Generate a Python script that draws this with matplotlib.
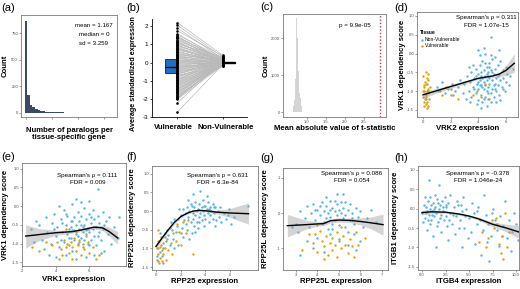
import matplotlib
matplotlib.use("Agg")
import matplotlib.pyplot as plt
import matplotlib.transforms as mtransforms
import numpy as np

plt.rcParams['font.family'] = ['Liberation Sans', 'DejaVu Sans']
plt.rcParams['axes.unicode_minus'] = False

BLUE = '#56B4E9'
ORANGE = '#E69F00'

# ---------------- data ----------------
# (a) histogram: number of paralogs per tissue-specific gene
a_bins = list(range(0, 33))
a_counts = [860, 170, 75, 53, 35, 25, 18, 14, 10, 8, 6, 5, 4, 3, 3, 2, 2, 2, 1, 1, 1, 1, 0, 1, 1, 0, 1, 0, 1, 0, 1, 0, 1]
a_stats = ["mean = 1.167", "median = 0", "sd = 3.259"]

# (b) paired average standardized expression
b_vul = [2.2, 2.05, 1.9, 1.75, 1.6, 1.52, 1.45, 1.4, 1.33, 1.27, 1.2, 1.15, 1.08, 1.02, 0.97, 0.9,
         0.85, 0.8, 0.74, 0.68, 0.62, 0.57, 0.51, 0.46, 0.4, 0.35, 0.3, 0.25, 0.2, 0.15, 0.1, 0.05,
         0.0, -0.05, -0.1, -0.15, -0.2, -0.25, -0.3, -0.35, -0.4, -0.45, -0.5, -0.55, -0.6, -0.65,
         -0.7, -0.75, -0.8, -0.86, -0.92, -0.97, -1.03, -1.08, -1.14, -1.2, -1.25, -1.3, -1.36,
         -1.42, -1.48, -1.53, -1.59, -1.65, -1.7, -1.76, -1.82, -1.88, -1.93, -1.98, -2.02, -2.22, -2.72,
         1.37, 1.12, 0.94, 0.77, 0.6, 0.43, 0.28, 0.12, -0.02, -0.17, -0.32, -0.47, -0.62, -0.77,
         -0.95, -1.11, -1.28, -1.45, -1.62, -1.79, -1.96]
b_non = [0.4, 0.3, 0.2, 0.35, 0.1, 0.25, 0.05, 0.15, 0.0, 0.1, 0.2, -0.05, 0.05, 0.3, 0.0, 0.12,
         -0.1, 0.08, 0.02, 0.18, -0.03, 0.06, 0.0, 0.1, -0.08, 0.04, 0.15, -0.02, 0.07, 0.0, -0.12,
         0.03, 0.1, -0.05, 0.0, 0.05, -0.15, 0.02, 0.08, -0.04, 0.0, 0.12, -0.1, 0.04, -0.02, 0.06,
         -0.18, 0.0, 0.1, -0.06, 0.03, -0.12, 0.0, 0.05, -0.08, 0.02, -0.15, 0.07, -0.03, 0.0,
         -0.1, 0.04, -0.2, 0.01, -0.05, 0.08, -0.12, 0.0, -0.07, 0.03, -0.15, 0.1, -0.1,
         0.22, 0.08, 0.14, -0.02, 0.05, 0.11, -0.06, 0.03, 0.0, -0.09, 0.06, -0.04, 0.02, -0.11,
         0.09, -0.07, 0.01, -0.13, 0.04, -0.16, 0.0]
b_box_vul = dict(q1=-0.57, med=-0.22, q3=0.18)
b_box_non = dict(q1=-0.02, med=0.0, q3=0.02)
b_groups = ["Vulnerable", "Non-Vulnerable"]

# (c) permutation histogram
c_centers = [0.63, 0.65, 0.67, 0.69, 0.71, 0.73, 0.75, 0.77, 0.79, 0.81, 0.83, 0.85, 0.87]
c_counts = [40, 150, 320, 900, 1900, 2550, 2000, 1100, 600, 520, 380, 150, 50]
c_observed = 2.92
c_p = "p = 9.9e-05"

# (d) VRK2 expression vs VRK1 dependency
d_blue = [(3.0,-0.8),(3.2,-0.6),(3.3,-1.0),(3.4,-0.75),(3.5,-0.5),(3.5,-1.15),(3.6,-0.9),(3.7,-0.65),
          (3.8,-0.4),(3.8,-1.05),(3.9,-0.8),(4.0,-0.55),(4.0,-1.25),(4.0,-0.95),(4.1,-0.7),(4.1,-0.3),
          (4.2,-1.1),(4.2,-0.85),(4.2,-0.5),(4.3,-0.65),(4.3,-1.3),(4.3,-0.2),(4.4,-0.95),(4.4,-0.75),
          (4.4,-0.45),(4.5,-1.15),(4.5,-0.6),(4.5,-0.85),(4.6,-0.35),(4.6,-1.0),(4.6,-0.7),(4.7,-0.5),
          (4.7,-1.2),(4.7,-0.9),(4.8,-0.25),(4.8,-0.65),(4.8,-0.8),(4.9,-1.05),(4.9,-0.45),(5.0,-0.7),
          (5.0,-0.95),(5.0,-0.15),(5.1,-0.55),(5.1,-1.15),(5.2,-0.8),(5.2,-0.4),(5.3,-0.65),(5.3,-1.0),
          (5.4,-0.3),(5.4,-0.85),(5.5,-0.55),(5.5,-1.1),(5.6,-0.7),(5.6,-0.2),(5.7,-0.9),(5.8,-0.45),
          (5.8,-0.65),(5.9,-1.0),(6.0,-0.35),(6.0,-0.75),(6.1,-0.55),(6.3,-0.6),(6.5,-0.4),(3.1,-1.2),
          (3.6,-0.3),(3.9,-1.35),(4.1,-0.05),(4.5,0.0),(4.9,-0.05),(5.2,-0.1),(4.4,0.15),(4.9,0.45),
          (5.5,0.1),(4.0,0.1),(3.3,-0.35),(2.9,-1.05),(2.7,-0.7),(2.5,-0.9),(2.3,-1.0),(2.1,-0.8),
          (2.0,-1.1),(1.8,-0.95),(1.6,-1.05),(1.4,-0.75),(1.2,-1.0),(1.0,-0.9),(0.3,-0.8),(0.4,-1.0),
          (0.2,-1.2),(4.6,-1.4),(5.3,-1.3),(4.2,-1.45),(5.0,-0.5),(4.7,-0.6),(4.3,-0.9),(4.0,-0.75),
          (3.7,-0.95),(5.8,-0.95),(6.2,-0.85),(3.4,-1.3),(5.6,-1.25),(4.9,-1.3),(4.5,-0.25),(4.2,-0.6),
          (3.8,-0.6),(5.1,-0.85),(4.7,-1.05),(4.4,-1.2),(4.6,-0.55),(5.4,-0.6),(5.2,-0.95),(4.1,-0.85),
          (4.8,-0.35)]
d_orange = [(0.0,-0.6),(0.05,-0.9),(0.1,-1.0),(0.15,-1.2),(0.2,-1.1),(0.25,-0.8),(0.3,-1.3),(0.35,-0.95),
            (0.4,-1.05),(0.1,-1.4),(0.3,-1.45),(0.2,-0.5),(0.4,-0.7),(0.0,-1.15),(0.45,-1.2),(0.15,-0.75),
            (0.3,-1.0),(0.05,-1.3),(0.35,-0.55),(0.25,-1.15),(0.5,-0.9),(0.1,-0.85),(0.2,-1.35),(0.4,-1.4),
            (0.0,-1.0),(0.3,-0.65),(1.1,-1.0),(1.4,-1.1),(1.7,-0.9),(2.2,-1.1),(2.5,-1.2),(3.6,-1.1),
            (4.2,-1.15),(4.8,-1.2),(3.9,-1.0),(4.5,-0.8),(2.0,-0.95)]
d_fit_x = [0, 1, 2, 3, 4, 5, 5.5, 6, 6.6]
d_fit_y = [-1.1, -0.99, -0.88, -0.77, -0.66, -0.6, -0.55, -0.45, -0.26]
d_fit_lo = [-1.2, -1.05, -0.93, -0.81, -0.69, -0.64, -0.62, -0.58, -0.5]
d_fit_hi = [-1.0, -0.93, -0.83, -0.73, -0.63, -0.56, -0.49, -0.33, 0.0]
d_text = ["Spearman's \u03c1 = 0.311", "FDR = 1.07e-15"]

# (e) VRK1 expression vs VRK1 dependency
e_blue = [(3.0,-0.5),(3.2,-0.9),(3.4,-0.3),(3.5,-0.7),(3.7,-1.0),(3.8,-0.45),(3.9,-0.2),(4.0,-0.8),
          (4.1,-0.55),(4.2,-1.1),(4.3,-0.35),(4.4,-0.7),(4.5,-0.1),(4.5,-0.95),(4.6,-0.5),(4.7,-0.75),
          (4.7,-0.25),(4.8,-1.05),(4.8,-0.6),(4.9,-0.4),(4.9,-0.85),(5.0,0.05),(5.0,-0.65),(5.0,-1.2),
          (5.1,-0.3),(5.1,-0.9),(5.2,-0.5),(5.2,-0.75),(5.3,-0.15),(5.3,-1.0),(5.4,-0.6),(5.4,-0.4),
          (5.5,-0.85),(5.5,0.1),(5.5,-0.25),(5.6,-0.7),(5.6,-1.1),(5.7,-0.5),(5.7,-0.05),(5.8,-0.8),
          (5.8,-0.35),(5.9,-0.6),(5.9,-1.0),(6.0,-0.2),(6.0,-0.7),(6.0,0.15),(6.1,-0.45),(6.1,-0.9),
          (6.2,-0.6),(6.2,-0.1),(6.3,-0.8),(6.3,-0.35),(6.4,-1.05),(6.4,-0.55),(6.5,0.45),(6.5,-0.25),
          (6.6,-0.7),(6.6,-0.45),(6.7,-0.9),(6.8,-0.15),(6.8,-0.6),(6.9,-1.2),(7.0,-0.4),(7.1,-0.75),
          (7.2,-0.3),(7.3,-1.0),(7.5,-0.55),(7.7,-0.85),(7.8,-0.3),(3.3,-1.15),(3.6,-1.3),(4.0,-1.35),
          (4.6,-1.3),(5.2,-1.4),(5.8,-1.35),(6.3,-1.3),(6.7,-1.25),(2.5,-0.6),(2.7,-0.95),(2.8,-0.4),
          (4.4,-0.45),(4.9,-0.55),(5.3,-0.8),(5.6,-0.55),(5.1,-0.65),(5.4,-0.95),(5.8,-0.65),(6.1,-0.3),
          (4.6,-0.2),(5.0,-0.4),(5.7,-0.9),(4.3,-0.9),(6.5,-0.8),(3.9,-0.6),(4.2,0.0),(5.2,0.2),
          (6.0,-1.05),(4.8,-0.85),(5.5,-0.5),(6.9,-0.5)]
e_orange = [(2.6,-1.1),(3.0,-1.2),(3.4,-0.95),(3.8,-1.05),(4.1,-0.95),(4.3,-1.15),(4.4,-1.3),(4.5,-0.9),
            (4.6,-1.1),(4.7,-1.0),(4.8,-1.25),(4.9,-0.95),(5.0,-1.1),(5.0,-1.4),(5.1,-0.85),(5.2,-1.2),
            (5.3,-1.05),(5.4,-0.9),(5.5,-1.3),(5.6,-1.0),(5.7,-1.15),(5.9,-0.95),(6.0,-1.25),(6.2,-1.1),
            (6.4,-1.4),(4.6,-0.6),(5.2,-0.7),(4.2,-1.4),(5.8,-0.75),(6.6,-1.3)]
e_fit_x = [2.2, 3.0, 4.0, 5.0, 5.6, 6.3, 6.8, 7.2, 7.7]
e_fit_y = [-0.8, -0.76, -0.71, -0.68, -0.63, -0.56, -0.58, -0.68, -0.85]
e_fit_lo = [-1.12, -0.92, -0.78, -0.72, -0.68, -0.61, -0.65, -0.8, -1.02]
e_fit_hi = [-0.5, -0.6, -0.64, -0.64, -0.58, -0.51, -0.51, -0.56, -0.68]
e_text = ["Spearman's \u03c1 = 0.111", "FDR = 0.009"]

# (f) RPP25 expression vs RPP25L dependency
f_blue = [(2.0,-0.1),(2.2,0.05),(2.3,-0.25),(2.4,-0.05),(2.5,0.1),(2.6,-0.15),(2.7,0.0),(2.8,-0.3),
          (2.9,0.15),(3.0,-0.05),(3.0,-0.2),(3.1,0.1),(3.2,-0.1),(3.2,0.25),(3.3,0.0),(3.3,-0.3),
          (3.4,0.05),(3.5,-0.15),(3.5,0.2),(3.6,-0.05),(3.7,0.1),(3.7,-0.25),(3.8,0.0),(3.8,0.3),
          (3.9,-0.1),(4.0,0.15),(4.0,-0.2),(4.1,0.05),(4.2,-0.05),(4.2,0.25),(4.3,-0.3),(4.4,0.1),
          (4.4,-0.1),(4.5,0.0),(4.6,-0.2),(4.6,0.2),(4.7,-0.05),(4.8,0.1),(4.9,-0.25),(5.0,0.0),
          (5.1,-0.15),(5.2,0.1),(5.3,-0.3),(5.5,-0.05),(5.7,-0.2),(5.9,0.05),(6.1,-0.35),(3.0,0.45),
          (3.6,0.55),(4.1,0.4),(2.6,0.3),(1.8,-0.2),(1.9,0.05),(1.7,-0.4),(1.5,-0.2),(1.6,-0.55),
          (1.3,-0.5),(1.2,-0.3),(1.4,-0.75),(1.0,-0.65),(1.1,-0.9),(0.8,-0.8),(0.9,-0.5),(0.6,-1.0),
          (0.7,-0.7),(0.5,-1.2),(0.4,-0.9),(0.3,-1.1),(0.2,-1.35),(0.35,-0.6),(0.15,-1.0),(0.1,-1.2),
          (2.1,-0.45),(2.5,-0.5),(2.9,-0.6),(3.4,-0.45),(2.2,-0.7),(1.5,-1.0),(7.5,0.15),(5.8,-0.1),
          (6.3,-0.15),(4.8,-0.4),(3.9,-0.4),(2.4,-0.35),(3.1,-0.4),(2.8,0.2),(3.5,-0.3),(4.3,0.05),
          (3.9,0.15),(4.7,0.1),(3.2,-0.55),(2.0,-0.6),(2.7,-0.75),(0.6,-1.4),(1.8,-0.9)]
f_orange = [(0.05,-1.0),(0.1,-1.3),(0.15,-0.8),(0.2,-1.15),(0.25,-1.4),(0.3,-0.95),(0.35,-1.25),(0.4,-0.7),
            (0.45,-1.05),(0.5,-1.35),(0.55,-0.85),(0.6,-1.15),(0.7,-0.6),(0.75,-1.0),(0.8,-1.3),(0.9,-0.75),
            (1.0,-1.05),(1.1,-0.45),(1.2,-0.85),(1.3,-1.15),(1.4,-0.6),(1.6,-0.8),(1.7,-0.35),(1.9,-0.55),
            (2.0,-0.9),(2.2,-0.3),(2.4,-0.6),(2.6,-0.25),(3.0,-1.15),(0.2,-0.5)]
f_fit_x = [0, 0.5, 1, 1.5, 2, 2.5, 3, 3.5, 4, 5, 6, 7.5]
f_fit_y = [-0.95, -0.72, -0.5, -0.3, -0.15, -0.06, 0.0, 0.02, 0.01, -0.03, -0.05, -0.07]
f_fit_lo = [-1.03, -0.77, -0.54, -0.34, -0.18, -0.09, -0.03, -0.01, -0.02, -0.08, -0.17, -0.35]
f_fit_hi = [-0.87, -0.67, -0.46, -0.26, -0.12, -0.03, 0.03, 0.05, 0.04, 0.02, 0.07, 0.22]
f_text = ["Spearman's \u03c1 = 0.631", "FDR = 6.3e-84"]

# (g) RPP25L expression vs RPP25L dependency
g_blue = [(3.0,-0.3),(3.2,0.05),(3.4,-0.15),(3.5,0.2),(3.6,-0.4),(3.7,0.0),(3.8,0.25),(3.9,-0.2),
          (4.0,0.1),(4.1,-0.05),(4.2,0.3),(4.2,-0.3),(4.3,0.05),(4.4,-0.15),(4.4,0.2),(4.5,-0.45),
          (4.5,0.0),(4.6,0.35),(4.6,-0.1),(4.7,0.15),(4.7,-0.3),(4.8,0.05),(4.8,-0.2),(4.9,0.25),
          (4.9,-0.05),(5.0,0.1),(5.0,-0.35),(5.1,0.0),(5.1,0.3),(5.2,-0.15),(5.2,0.15),(5.3,-0.05),
          (5.3,-0.4),(5.4,0.1),(5.5,-0.2),(5.5,0.25),(5.6,0.0),(5.7,-0.3),(5.8,0.15),(5.9,-0.1),
          (6.0,0.05),(6.1,-0.4),(6.3,-0.15),(6.5,0.1),(6.7,-0.25),(4.9,0.55),(5.2,0.55),(4.4,0.45),
          (3.5,-0.8),(3.8,-1.0),(4.0,-0.7),(4.3,-1.1),(4.6,-0.6),(5.0,-0.75),(5.4,-0.9),(5.7,-0.6),
          (6.0,-0.8),(3.2,-1.2),(3.1,-0.55),(5.8,-1.05),(2.8,-0.4),(4.1,0.2),(4.6,0.1),(5.3,0.3),
          (4.3,-0.25),(4.8,0.35),(5.6,-0.15),(3.9,0.1),(5.4,-0.55),(4.7,-0.45)]
g_orange = [(3.3,-1.05),(3.6,-0.6),(3.8,-0.85),(4.0,-1.1),(4.1,-0.5),(4.2,-0.8),(4.3,-0.95),(4.4,-0.65),
            (4.5,-1.2),(4.6,-0.85),(4.7,-0.7),(4.7,-1.05),(4.8,-0.9),(4.9,-0.55),(4.9,-1.25),(5.0,-0.8),
            (5.1,-1.0),(5.2,-0.65),(5.3,-0.9),(5.4,-1.15),(5.5,-0.75),(5.6,-0.95),(5.8,-0.55),(5.9,-0.9),
            (6.2,-0.7),(4.3,-1.3),(4.0,-0.35),(5.1,-0.4),(3.9,-0.6),(5.7,-1.25)]
g_fit_x = [2.6, 3.5, 4.0, 4.3, 4.6, 5.0, 5.5, 6.0, 6.5, 7.05]
g_fit_y = [-0.36, -0.33, -0.31, -0.3, -0.22, -0.2, -0.21, -0.24, -0.28, -0.33]
g_fit_lo = [-0.68, -0.45, -0.37, -0.36, -0.28, -0.26, -0.27, -0.34, -0.45, -0.63]
g_fit_hi = [-0.04, -0.21, -0.25, -0.24, -0.16, -0.14, -0.15, -0.14, -0.11, -0.03]
g_text = ["Spearman's \u03c1 = 0.086", "FDR = 0.054"]

# (h) ITGB4 expression vs ITGB1 dependency
h_blue = [(0.0,-0.1),(0.2,0.1),(0.3,-0.25),(0.4,0.05),(0.5,-0.05),(0.6,0.2),(0.7,-0.15),(0.8,0.0),
          (0.9,0.3),(1.0,-0.3),(1.0,0.1),(1.1,-0.05),(1.2,0.15),(1.3,-0.2),(1.4,0.05),(1.5,-0.1),
          (1.6,0.25),(1.7,-0.35),(1.8,0.0),(1.9,0.1),(2.0,-0.15),(2.1,0.2),(2.2,-0.05),(2.3,-0.3),
          (2.5,0.05),(2.6,-0.2),(2.8,0.15),(3.0,-0.1),(3.2,-0.4),(3.4,0.05),(3.6,-0.2),(3.8,0.1),
          (4.0,-0.3),(4.2,-0.05),(4.5,-0.5),(4.7,0.0),(5.0,-0.25),(5.2,-0.6),(5.5,-0.1),(5.8,-0.4),
          (6.0,0.05),(6.2,-0.3),(6.5,-0.55),(6.8,-0.15),(7.0,-0.4),(7.3,-0.7),(7.6,0.0),(7.8,-0.3),
          (8.0,-0.55),(8.3,-0.2),(8.6,-0.45),(9.0,-0.75),(9.3,-0.3),(9.6,-0.6),(10.0,-0.4),(10.2,-0.8),
          (0.7,0.75),(1.8,0.6),(3.0,0.35),(4.4,0.3),(6.6,0.35),(8.8,0.2),(0.5,-0.55),(1.2,-0.7),
          (2.0,-0.6),(2.8,-0.8),(3.5,-0.65),(4.3,-1.0),(6.3,-1.2),(7.1,-1.35),(5.6,-0.9),(8.2,-0.95),
          (9.5,-1.1),(1.5,-1.0),(0.3,0.3),(1.4,0.35),(2.4,0.3),(0.9,-0.4),(1.6,-0.45),(2.7,-0.45),
          (3.9,-0.5),(5.3,0.15),(7.4,-0.1),(9.8,-0.1),(4.9,-0.75),(6.9,-0.85),(8.5,-0.7),(0.1,-0.35),
          (1.1,-0.15),(2.2,0.05),(3.3,-0.15),(4.6,-0.2),(5.9,-0.05),(3.7,0.2),(0.4,-0.1),(1.3,0.0),
          (1.9,-0.25),(2.6,0.1),(0.6,-0.3),(1.7,0.15),(2.9,-0.3),(4.1,0.1)]
h_orange = [(6.4,-0.6),(6.8,-1.0),(7.0,-0.75),(7.4,-0.3),(7.7,-0.5),(8.0,-0.4),(8.2,-0.9),(8.4,-1.15),
            (8.6,-1.3),(8.8,-0.1),(9.0,-1.0),(9.3,-0.6),(7.9,-0.25),(8.5,-0.7),(6.1,-0.85)]
h_fit_x = [0, 1, 2.5, 4, 5, 6, 7.5, 9, 10.3]
h_fit_y = [-0.1, -0.08, -0.09, -0.14, -0.19, -0.26, -0.4, -0.5, -0.6]
h_fit_lo = [-0.16, -0.12, -0.12, -0.17, -0.22, -0.3, -0.46, -0.6, -0.76]
h_fit_hi = [-0.04, -0.04, -0.06, -0.11, -0.16, -0.22, -0.34, -0.4, -0.44]
h_text = ["Spearman's \u03c1 = -0.378", "FDR = 1.046e-24"]

# ---------------- layout helpers ----------------
W, H = 520, 289
fig = plt.figure(figsize=(W / 100, H / 100), dpi=100)


def add_ax(l, t, r, b):
    return fig.add_axes([l / W, 1 - b / H, (r - l) / W, (b - t) / H])


TICK_C = '#4d4d4d'
LAB = dict(fontsize=5.6, fontweight='bold', color='black')


def style_box(ax):
    for s in ax.spines.values():
        s.set_color('#7a7a7a')
        s.set_linewidth(0.6)
    ax.tick_params(length=1.3, width=0.4, color='#555555', labelsize=3.0,
                   labelcolor=TICK_C, pad=0.8)


def set_labels(ax, xl, yl, xy, yx):
    ax.set_xlabel(xl, va='center', **LAB)
    ax.xaxis.set_label_coords(0.5, xy)
    ax.set_ylabel(yl, va='center', **LAB)
    ax.yaxis.set_label_coords(yx, 0.5)


def panel_label(x, y, s):
    fig.text(x / W, 1 - y / H, s, fontsize=8, ha='left', va='center')


def scatter_panel(ax, blue, orange, fx, fy, flo, fhi, texts, tx, ty1, ty2):
    bx, by = zip(*blue)
    ox, oy = zip(*orange)
    ax.scatter(bx, by, s=3.0, c=BLUE, linewidths=0, label='Non-Vulnerable', zorder=2)
    ax.scatter(ox, oy, s=3.0, c=ORANGE, linewidths=0, label='Vulnerable', zorder=3)
    ax.fill_between(fx, flo, fhi, color='#a0a0a0', alpha=0.45, linewidth=0, zorder=4)
    ax.plot(fx, fy, color='black', lw=1.0, zorder=5)
    ax.text(tx, ty1, texts[0], transform=ax.transAxes, ha='center', va='center', fontsize=4.5)
    ax.text(tx, ty2, texts[1], transform=ax.transAxes, ha='center', va='center', fontsize=4.5)
    style_box(ax)


# ---------------- (a) ----------------
ax = add_ax(21, 15, 117, 117)
ax.bar(a_bins, a_counts, width=1.0, color='#3d4b60', linewidth=0)
ax.set_xlim(-1.9, 35)
ax.set_ylim(-40, 920)
ax.set_xticks([0, 10, 20, 30])
ax.set_xticklabels([])
ax.set_yticks([0, 250, 500, 750])
style_box(ax)
for i, s in enumerate(a_stats):
    ax.text(0.76, 0.9 - i * 0.088, s, transform=ax.transAxes, ha='center', va='center', fontsize=4.4)
set_labels(ax, "Number of paralogs per\ntissue-specific gene", "Count", -0.17, -0.17)
ax.xaxis.label.set_linespacing(1.05)
panel_label(1, 8, "(a)")

# ---------------- (b) ----------------
ax = add_ax(152, 19, 247, 117)
for v, n in zip(b_vul, b_non):
    ax.plot([1, 2], [v, n], color='#bababa', lw=0.5, zorder=1)
ax.scatter([1] * len(b_vul), b_vul, s=3.5, c='black', linewidths=0, zorder=3)
ax.scatter([2] * len(b_non), b_non, s=3.5, c='black', linewidths=0, zorder=3)
stats_v = [dict(med=b_box_vul['med'], q1=b_box_vul['q1'], q3=b_box_vul['q3'],
                whislo=b_box_vul['q1'], whishi=b_box_vul['q3'], fliers=[])]
stats_n = [dict(med=b_box_non['med'], q1=b_box_non['q1'], q3=b_box_non['q3'],
                whislo=b_box_non['q1'], whishi=b_box_non['q3'], fliers=[])]
ax.bxp(stats_v, positions=[0.865], widths=[0.27], patch_artist=True, showcaps=False,
       boxprops=dict(facecolor='#1f6fc4', edgecolor='black', linewidth=0.5),
       medianprops=dict(color='black', linewidth=0.9), whiskerprops=dict(linewidth=0), manage_ticks=False)
ax.bxp(stats_n, positions=[2.135], widths=[0.27], patch_artist=True, showcaps=False,
       boxprops=dict(facecolor='#1f6fc4', edgecolor='black', linewidth=1.0),
       medianprops=dict(color='black', linewidth=1.2), whiskerprops=dict(linewidth=0), manage_ticks=False)
ax.set_xlim(0.44, 2.53)
ax.set_ylim(-3, 2.4)
ax.set_xticks([1, 2])
ax.set_xticklabels(["", ""])
blend = mtransforms.blended_transform_factory(ax.transData, ax.transAxes)
ax.text(0.92, -0.11, b_groups[0], transform=blend, ha='center', va='center',
        fontsize=5.5, fontweight='bold')
ax.text(2.07, -0.11, b_groups[1], transform=blend, ha='center', va='center',
        fontsize=5.5, fontweight='bold')
ax.set_yticks([-3, -2, -1, 0, 1, 2])
ax.spines['top'].set_visible(False)
ax.spines['right'].set_visible(False)
for s in ('left', 'bottom'):
    ax.spines[s].set_linewidth(0.6)
ax.tick_params(axis='y', length=1.5, width=0.5, labelsize=4.5, pad=1.2)
ax.tick_params(axis='x', length=1.5, width=0.5, pad=3.5)
ax.set_ylabel("Average standardized expression", va='center', fontsize=5.2,
              fontweight='bold', color='black')
ax.yaxis.set_label_coords(-0.19, 0.44)
panel_label(126, 8, "(b)")

# ---------------- (c) ----------------
ax = add_ax(283, 14, 386, 117)
ax.bar(c_centers, c_counts, width=0.02, color='#d4d4d4', linewidth=0)
ax.axvline(c_observed, color='#b83a4b', lw=1.0, linestyle=(0, (1, 1.4)))
ax.set_xlim(0.37, 3.08)
ax.set_ylim(-135, 2650)
ax.set_xticks([1.0, 1.5, 2.0, 2.5])
ax.set_xticklabels(["1.0", "1.5", "2.0", "2.5"])
ax.set_yticks([0, 1000, 2000])
style_box(ax)
ax.text((354.5 - 283) / 103, (117 - 25) / 103, c_p, transform=ax.transAxes,
        ha='center', va='center', fontsize=4.5)
set_labels(ax, "Mean absolute value of t-statistic", "Count", -0.107, -0.16)
panel_label(260, 7.5, "(c)")

# ---------------- (d) ----------------
ax = add_ax(417, 12, 518, 117)
scatter_panel(ax, d_blue, d_orange, d_fit_x, d_fit_y, d_fit_lo, d_fit_hi, d_text,
              0.683, 0.952, 0.876)
ax.set_xlim(-0.43, 6.87)
ax.set_ylim(-1.69, 1.106)
ax.set_xticks([0, 2, 4, 6])
ax.set_yticks([1.0, 0.5, 0.0, -0.5, -1.0, -1.5])
ax.set_yticklabels(["1.0", "0.5", "0.0", "-0.5", "-1.0", "-1.5"])
leg = ax.legend(loc='upper left', bbox_to_anchor=(0.02, 0.83), frameon=False, fontsize=3.6,
                title="Tissue", title_fontproperties=dict(size=3.6, weight='bold'),
                handletextpad=0.1, borderpad=0.1, labelspacing=0.3, markerscale=1.0,
                handlelength=1.0, borderaxespad=0)
leg._legend_box.align = 'left'
set_labels(ax, "VRK2 expression", "VRK1 dependency score", -0.105, -0.139)
panel_label(394, 8, "(d)")

# ---------------- (e) ----------------
ax = add_ax(22, 163, 126, 266)
scatter_panel(ax, e_blue, e_orange, e_fit_x, e_fit_y, e_fit_lo, e_fit_hi, e_text,
              (87.5 - 22) / 104, (266 - 175) / 103, (266 - 183) / 103)
ax.set_xlim(1.98, 8.2)
ax.set_ylim(-1.60, 1.155)
ax.set_xticks([2, 4, 6])
ax.set_yticks([1.0, 0.5, 0.0, -0.5, -1.0, -1.5])
ax.set_yticklabels(["1.0", "0.5", "0.0", "-0.5", "-1.0", "-1.5"])
set_labels(ax, "VRK1 expression", "VRK1 dependency score", -0.135, -0.159)
panel_label(1, 157, "(e)")

# ---------------- (f) ----------------
ax = add_ax(152, 166, 258, 270)
scatter_panel(ax, f_blue, f_orange, f_fit_x, f_fit_y, f_fit_lo, f_fit_hi, f_text,
              (217.5 - 152) / 106, (270 - 175) / 104, (270 - 182.7) / 104)
ax.set_xlim(-0.32, 8.27)
ax.set_ylim(-1.58, 1.21)
ax.set_xticks([0, 2, 4, 6])
ax.set_yticks([1.0, 0.5, 0.0, -0.5, -1.0, -1.5])
ax.set_yticklabels(["1.0", "0.5", "0.0", "-0.5", "-1.0", "-1.5"])
set_labels(ax, "RPP25 expression", "RPP25L dependency score", -0.115, -0.18)
panel_label(126, 157, "(f)")

# ---------------- (g) ----------------
ax = add_ax(283, 168, 388, 270)
scatter_panel(ax, g_blue, g_orange, g_fit_x, g_fit_y, g_fit_lo, g_fit_hi, g_text,
              (352 - 283) / 105, (270 - 173) / 102, (270 - 180) / 102)
ax.set_xlim(2.40, 7.28)
ax.set_ylim(-1.62, 1.28)
ax.set_xticks([3, 4, 5, 6, 7])
ax.set_yticks([1, 0, -1])
ax.set_yticklabels(["1", "0", "-1"])
set_labels(ax, "RPP25L expression", "RPP25L dependency score", -0.11, -0.167)
panel_label(260, 158, "(g)")

# ---------------- (h) ----------------
ax = add_ax(418, 166, 519, 270)
scatter_panel(ax, h_blue, h_orange, h_fit_x, h_fit_y, h_fit_lo, h_fit_hi, h_text,
              (478 - 418) / 101, (270 - 173) / 104, (270 - 180) / 104)
ax.set_xlim(-0.43, 10.32)
ax.set_ylim(-1.58, 1.10)
ax.set_xticks([0, 2.5, 5, 7.5, 10])
ax.set_xticklabels(["0.0", "2.5", "5.0", "7.5", "10.0"])
ax.set_yticks([1.0, 0.5, 0.0, -0.5, -1.0, -1.5])
ax.set_yticklabels(["1.0", "0.5", "0.0", "-0.5", "-1.0", "-1.5"])
set_labels(ax, "ITGB4 expression", "ITGB1 dependency score", -0.11, -0.223)
panel_label(394, 158, "(h)")

fig.savefig("out.png", dpi=100)
